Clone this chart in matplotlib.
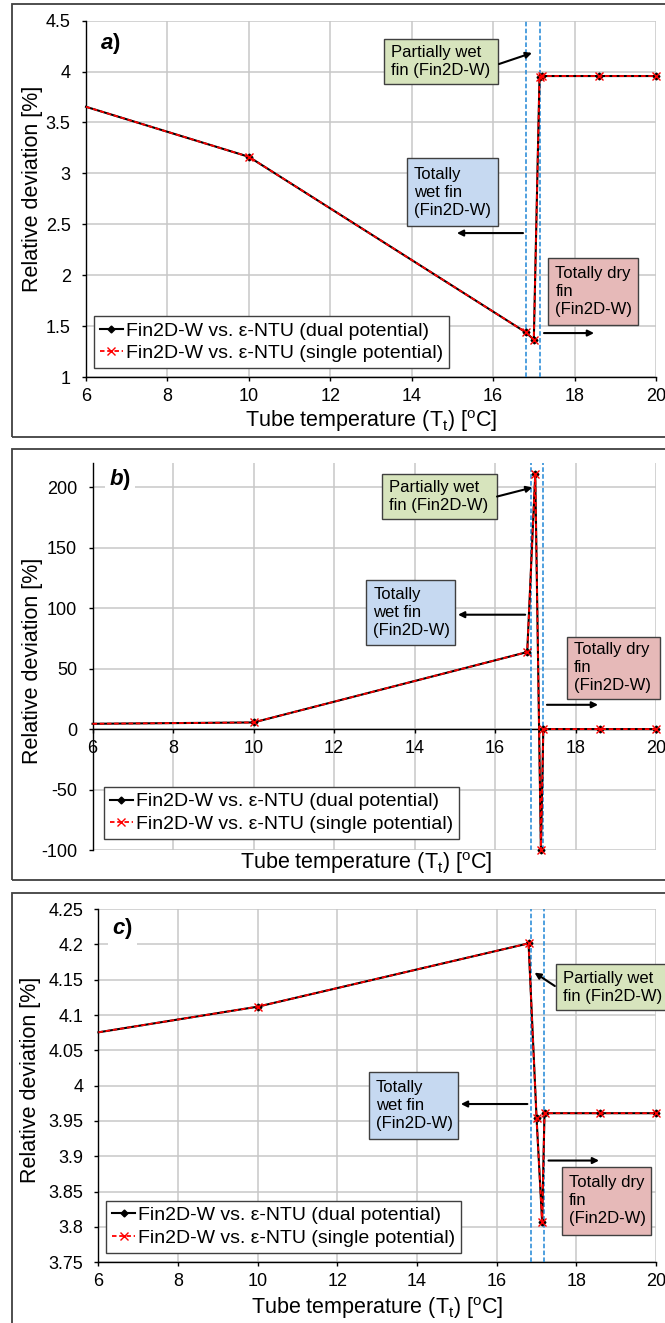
import numpy as np
import matplotlib
matplotlib.use("Agg")
import matplotlib.pyplot as plt
from matplotlib.lines import Line2D
from matplotlib.patches import Rectangle

plt.rcParams['font.family'] = 'Liberation Sans'
plt.rcParams['mathtext.fontset'] = 'custom'
plt.rcParams['mathtext.rm'] = 'Liberation Sans'
plt.rcParams['mathtext.it'] = 'Liberation Sans:italic'
plt.rcParams['mathtext.bf'] = 'Liberation Sans:bold'
plt.rcParams['mathtext.bfit'] = 'Liberation Sans:italic:bold'

# tube temperature [oC], same sweep for the three cases
tube_temp = [6, 10, 16.8, 17.0, 17.14, 17.2, 18.6, 20]

# relative deviation of Fin2D-W vs. e-NTU [%]
dev_a_dual = [3.654, 3.163, 1.44, 1.367, 3.95, 3.956, 3.956, 3.956]
dev_a_single = [3.654, 3.163, 1.44, 1.367, 3.95, 3.956, 3.956, 3.956]
dev_b_dual = [4.4, 5.5, 63.7, 211.0, -100.0, 0.0, 0.0, 0.0]
dev_b_single = [4.4, 5.5, 63.7, 211.0, -100.0, 0.0, 0.0, 0.0]
dev_c_dual = [4.0755, 4.1118, 4.2014, 3.9547, 3.8075, 3.961, 3.961, 3.961]
dev_c_single = [4.0755, 4.1118, 4.2014, 3.9547, 3.8075, 3.961, 3.961, 3.961]

# wet / partially wet / dry boundaries from Fin2D-W
bounds_a = [16.81, 17.15]
bounds_b = [16.89, 17.20]
bounds_c = [16.85, 17.19]

label_dual = 'Fin2D-W vs. \u03b5-NTU (dual potential)'
label_single = 'Fin2D-W vs. \u03b5-NTU (single potential)'
txt_partial = 'Partially wet\nfin (Fin2D-W)'
txt_wet = 'Totally\nwet fin\n(Fin2D-W)'
txt_dry = 'Totally dry\nfin\n(Fin2D-W)'

GREEN = '#d7e4bd'
BLUE = '#c6d9f1'
PINK = '#e6b9b8'


def regime_box(ax, x0, x1, ytop, ybot, text, color):
    ax.add_patch(Rectangle((x0, ybot), x1 - x0, ytop - ybot, facecolor=color,
                           edgecolor='#404040', lw=1.0, clip_on=False, zorder=5))
    ax.annotate(text, xy=(x0, (ytop + ybot) / 2), xytext=(5, 0),
                textcoords='offset points', ha='left', va='center',
                fontsize=12, linespacing=1.25, zorder=6, annotation_clip=False)


def regime_arrow(ax, start, end):
    ax.annotate('', xy=end, xytext=start, annotation_clip=False, zorder=6,
                arrowprops=dict(arrowstyle='-|>', color='black', lw=1.5,
                                mutation_scale=9, shrinkA=0, shrinkB=0))


def draw_panel(ax, dual, single, bounds, ylim, ystep, tag, tag_xy,
               legend_xy, xlabel_xy, ylabel_xy, zero_axis=False):
    ax.set_xlim(6, 20)
    ax.set_ylim(*ylim)
    ax.set_xticks(np.arange(6, 21, 2))
    yt = np.arange(ylim[0], ylim[1] + 1e-9, ystep)
    yt = yt[yt <= ylim[1] + 1e-9]
    ax.set_yticks(yt)
    ax.set_yticklabels(['%g' % round(v, 3) for v in yt])
    ax.grid(True, color='#c8c8c8', lw=1.1, zorder=0)
    ax.set_axisbelow(True)
    for s in ('top', 'right'):
        ax.spines[s].set_visible(False)
    for s in ('left', 'bottom'):
        ax.spines[s].set_color('black')
        ax.spines[s].set_linewidth(1.0)
    if zero_axis:
        ax.spines['bottom'].set_position(('data', 0))
    ax.tick_params(axis='y', length=3, width=1, pad=8, labelsize=13)
    ax.tick_params(axis='x', length=3, width=1, pad=5, labelsize=13)

    for b in bounds:
        ax.axvline(b, color='#1f86d6', lw=1.1, ls=(0, (3, 1.5)), zorder=3)

    ax.plot(tube_temp, dual, color='black', lw=1.5, zorder=4, clip_on=False)
    ax.plot(tube_temp[1:], dual[1:], ls='none', marker='D', ms=3.5,
            color='black', zorder=4, clip_on=False)
    red, = ax.plot(tube_temp, single, color='red', lw=1.3, zorder=4.5,
                   clip_on=False)
    red.set_dashes((2.5, 1.5))
    ax.plot(tube_temp[1:], single[1:], ls='none', marker='x', ms=5.5,
            mew=1.0, color='red', zorder=4.5, clip_on=False)

    h_dual = Line2D([], [], color='black', lw=1.5, marker='D', ms=3.5)
    h_single = Line2D([], [], color='red', lw=1.3, ls=(0, (2.5, 1.5)),
                      marker='x', ms=5.5, mew=1.0)
    leg = ax.legend([h_dual, h_single], [label_dual, label_single],
                    loc='upper left', bbox_to_anchor=legend_xy,
                    borderaxespad=0, fontsize=14, fancybox=False,
                    framealpha=1, edgecolor='#404040', handlelength=1.2,
                    handletextpad=0.15, borderpad=0.3, labelspacing=0.25,
                    numpoints=1)
    leg.get_frame().set_linewidth(1.0)
    leg.set_zorder(7)

    ax.text(tag_xy[0], tag_xy[1], r'$\mathbfit{%s}$)' % tag, fontsize=16,
            fontweight='bold', ha='left', va='center', zorder=6,
            bbox=dict(facecolor='white', edgecolor='none', pad=3))

    ax.set_xlabel(r'Tube temperature (T$_\mathregular{t}$) [$^\mathregular{o}$C]',
                  fontsize=15.5, va='top')
    ax.xaxis.set_label_coords(*xlabel_xy)
    ax.set_ylabel('Relative deviation [%]', fontsize=15.5, va='center')
    ax.yaxis.set_label_coords(*ylabel_xy)


fig = plt.figure(figsize=(6.65, 13.23), dpi=100)

# outer frames around each case
for y0, h in [(0.6697, 0.3273), (0.3348, 0.3258), (-0.0053, 0.3303)]:
    fig.add_artist(Rectangle((0.0185, y0), 1.0, h, transform=fig.transFigure,
                             fill=False, edgecolor='#404040', lw=1.3))

ax_a = fig.add_axes([0.1293, 0.7150, 0.8571, 0.2694])
ax_b = fig.add_axes([0.1391, 0.3575, 0.8474, 0.2925])
ax_c = fig.add_axes([0.1480, 0.0459, 0.8385, 0.2670])

# a) case
draw_panel(ax_a, dev_a_dual, dev_a_single, bounds_a, (1, 4.5), 0.5, 'a',
           (6.35, 4.28), (0.014, 0.171), (0.5, -0.087), (-0.0947, 0.528))
regime_box(ax_a, 13.32, 16.13, 4.32, 3.878, txt_partial, GREEN)
regime_arrow(ax_a, (16.145, 4.074), (16.955, 4.183))
regime_box(ax_a, 13.88, 16.13, 3.151, 2.483, txt_wet, BLUE)
regime_arrow(ax_a, (16.735, 2.414), (15.11, 2.414))
regime_box(ax_a, 17.36, 19.57, 2.165, 1.507, txt_dry, PINK)
regime_arrow(ax_a, (17.25, 1.432), (18.48, 1.432))

# b) case
draw_panel(ax_b, dev_b_dual, dev_b_single, bounds_b, (-100, 220), 50, 'b',
           (6.42, 206.4), (0.0204, 0.163), (0.485, 0.0), (-0.1056, 0.49),
           zero_axis=True)
regime_box(ax_b, 13.19, 16.05, 211.3, 174.1, txt_partial, GREEN)
regime_arrow(ax_b, (16.05, 192.3), (16.93, 199.8))
regime_box(ax_b, 12.8, 15.0, 123.6, 69.8, txt_wet, BLUE)
regime_arrow(ax_b, (16.75, 94.6), (15.08, 94.6))
regime_box(ax_b, 17.79, 20.11, 76.4, 25.1, txt_dry, PINK)
regime_arrow(ax_b, (17.29, 20.1), (18.56, 20.1))

# c) case
draw_panel(ax_c, dev_c_dual, dev_c_single, bounds_c, (3.75, 4.25), 0.05, 'c',
           (6.35, 4.222), (0.0136, 0.174), (0.5, -0.0926), (-0.121, 0.517))
regime_box(ax_c, 17.49, 20.6, 4.172, 4.107, txt_partial, GREEN)
regime_arrow(ax_c, (17.46, 4.141), (16.95, 4.16))
regime_box(ax_c, 12.79, 15.04, 4.019, 3.925, txt_wet, BLUE)
regime_arrow(ax_c, (16.77, 3.974), (15.10, 3.974))
regime_box(ax_c, 17.64, 19.87, 3.885, 3.789, txt_dry, PINK)
regime_arrow(ax_c, (17.30, 3.894), (18.57, 3.894))

fig.savefig('out.png', dpi=100)
